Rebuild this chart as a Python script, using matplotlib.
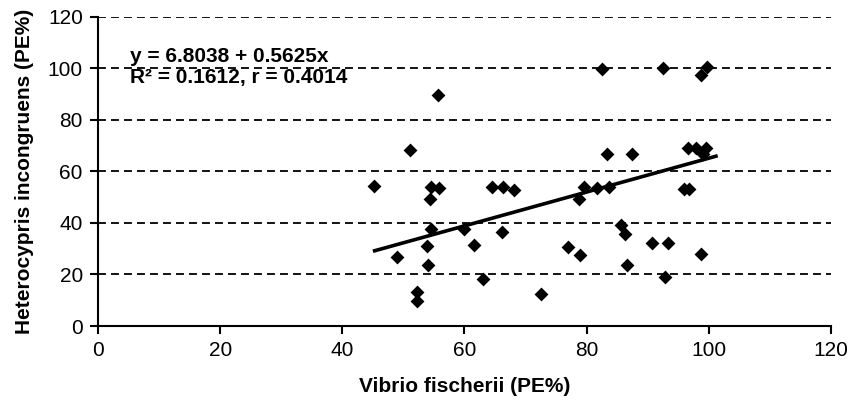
import numpy as np
import matplotlib
matplotlib.use('Agg')
import matplotlib.pyplot as plt

plt.rcParams['font.family'] = ['Liberation Sans', 'DejaVu Sans']

# Vibrio fischerii (PE%) vs Heterocypris incongruens (PE%)
vibrio = [45.2, 48.9, 51.1, 52.2, 52.3, 53.8, 54.1, 54.4, 54.5, 54.6,
          55.7, 55.8, 60.0, 61.6, 63.1, 64.6, 66.1, 66.3, 68.1, 72.5,
          77.0, 78.8, 78.9, 79.6, 81.7, 82.6, 83.4, 83.7, 85.6, 86.3,
          86.6, 87.4, 90.8, 92.6, 92.8, 93.3, 96.0, 96.6, 96.8, 98.0,
          98.8, 98.8, 99.0, 99.5, 99.8]
hetero = [54.3, 26.9, 68.3, 13.3, 9.8, 31.0, 23.7, 49.1, 37.5, 53.8,
          89.7, 53.5, 37.5, 31.4, 18.1, 53.8, 36.6, 53.8, 52.8, 12.3,
          30.8, 49.3, 27.5, 53.8, 53.4, 99.7, 66.6, 53.8, 39.2, 35.7,
          23.7, 66.6, 32.1, 100.1, 18.9, 32.1, 53.3, 68.9, 53.0, 68.9,
          97.4, 27.9, 66.7, 68.9, 100.6]

# trend line as drawn (start/end)
line_x = [45.3, 101.2]
line_y = [29.2, 65.9]

eq_text = 'y = 6.8038 + 0.5625x\nR\u00b2 = 0.1612, r = 0.4014'

fig = plt.figure(figsize=(8.6, 4), dpi=100)
ax = fig.add_axes([0.114, 0.185, 0.852, 0.773])

# dashed grid
for yv in range(20, 121, 20):
    ax.axhline(yv, color='black', lw=1.3, dashes=(4.4, 2.8), zorder=1)

ax.scatter(vibrio, hetero, marker='D', s=50, color='black', zorder=3, linewidths=0)
ax.plot(line_x, line_y, color='black', lw=2.6, zorder=2)

ax.text(5.2, 100.5, eq_text, fontsize=15, fontweight='bold', linespacing=1.15,
        va='center', ha='left')

ax.set_xlim(0, 120)
ax.set_ylim(0, 120)
ax.set_xticks(range(0, 121, 20))
ax.set_yticks(range(0, 121, 20))
ax.spines['top'].set_visible(False)
ax.spines['right'].set_visible(False)
ax.spines['left'].set_linewidth(1.5)
ax.spines['bottom'].set_linewidth(1.5)
ax.tick_params(direction='out', length=6, width=1.5, labelsize=15, color='black', pad=5)

ax.set_xlabel('Vibrio fischerii (PE%)', fontsize=15, fontweight='bold', labelpad=12)
ax.set_ylabel('Heterocypris incongruens (PE%)', fontsize=15, fontweight='bold', labelpad=10)

fig.savefig('out.png', dpi=100)
